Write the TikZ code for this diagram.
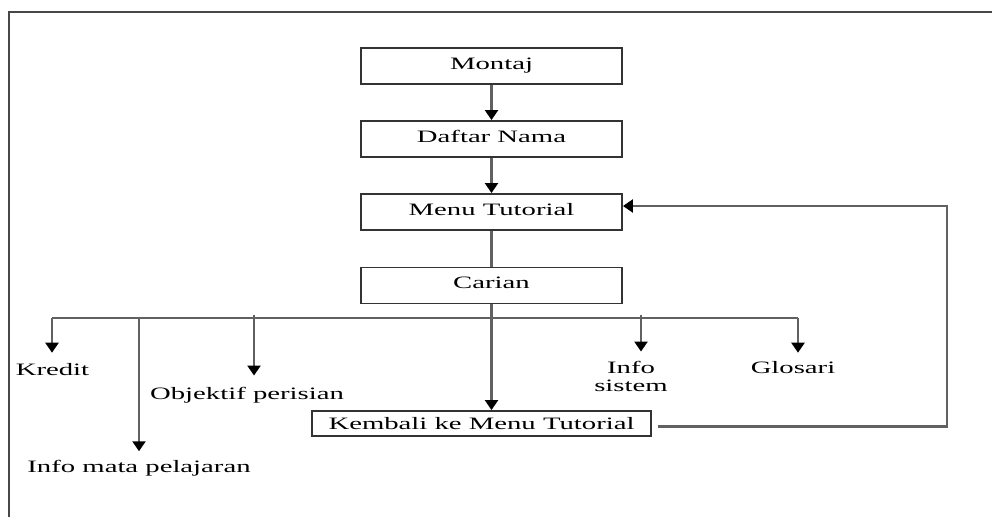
\documentclass[tikz,border=0pt]{standalone}
\usepackage{fontspec}
\newfontfamily\diagfont[FakeStretch=1.65]{Liberation Serif}
\usetikzlibrary{arrows.meta}
\definecolor{boxline}{gray}{0.2}
\definecolor{connline}{gray}{0.38}
\definecolor{frameline}{gray}{0.28}
\begin{document}
\begin{tikzpicture}[x=1pt,y=-1pt,
  every node/.style={font=\diagfont\fontsize{17.4}{18}\selectfont},
  box/.style={draw=boxline,line width=1.9pt,minimum width=261pt,minimum height=36pt,
              inner sep=0pt,text height=10pt,text depth=4pt},
  lbl/.style={inner sep=0pt,anchor=base,align=center},
  link/.style={draw=connline,line width=2.3pt},
  arr/.style={link,-{Triangle[width=13pt,length=10pt,color=black]}},
]
\useasboundingbox (0,0) rectangle (992,517);

% outer frame
\draw[frameline,line width=2pt] (9,517) -- (9,12) -- (992,12);

% main column
\node[box] (montaj) at (491.5,66)    {Montaj};
\node[box] (daftar) at (491.5,139)   {Daftar Nama};
\node[box] (menu)   at (491.5,212)   {Menu Tutorial};
\node[box] (carian) at (491.5,285.5) {Carian};
\node[box,minimum width=339pt,minimum height=25pt,text height=12pt,text depth=0pt]
  (kembali) at (481.5,423.5) {Kembali ke Menu Tutorial};

% branch targets (the base anchor of a two-line label sits on its last line)
\node[lbl] (kredit)   at (52.5,375)  {Kredit};
\node[lbl] (infomata) at (139,472.7) {Info mata pelajaran};
\node[lbl] (objektif) at (247,399)   {Objektif perisian};
\node[lbl] (infosis)  at (631,391)   {Info\\sistem};
\node[lbl] (glosari)  at (793,373)   {Glosari};

% branch bar
\coordinate (bK) at (52,318);
\coordinate (bI) at (139,318);
\coordinate (bO) at (254,318);
\coordinate (bS) at (641,318);
\coordinate (bG) at (798,318);
\coordinate (ret) at (947,0);

\draw[link,line width=1.7pt] (bK) -- (bG);

% connectors
\draw[arr] (montaj) -- (daftar);
\draw[arr] (daftar) -- (menu);
\draw[link] (menu) -- (carian);
\draw[arr] (carian.south) -- (carian.south |- kembali.north);

\draw[arr,shorten >=10pt] (bK) -- (bK |- kredit.north);
\draw[arr,shorten >=9pt]  (bI) -- (bI |- infomata.north);
\draw[arr,shorten >=11pt] ([yshift=3pt]bO) -- (bO |- objektif.north);
\draw[arr,shorten >=9pt]  ([yshift=3pt]bS) -- (bS |- infosis.north);
\draw[arr,shorten >=8pt]  (bG) -- (bG |- glosari.north);

% return loop to the tutorial menu
\draw[arr,shorten <=6pt] ([yshift=-3pt]kembali.east) -- ([yshift=-3pt]kembali.east -| ret) |- ([yshift=6pt]menu.east);
\end{tikzpicture}
\end{document}
